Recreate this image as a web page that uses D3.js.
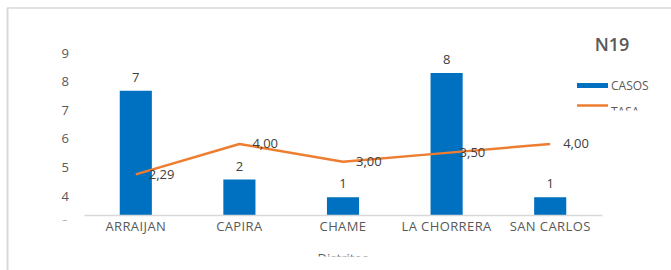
<!DOCTYPE html>
<html>
<head>
<meta charset="utf-8">
<script src="https://cdn.jsdelivr.net/npm/d3@7"></script>
<style>
  body { margin: 0; background: #fff; }
  svg { display: block; font-family: "Open Sans", sans-serif; }
</style>
</head>
<body>
<svg id="chart" width="671" height="270"></svg>
<script>
const DISTRITOS = ['ARRAIJAN', 'CAPIRA', 'CHAME', 'LA CHORRERA', 'SAN CARLOS'];
const CASOS = [7, 2, 1, 8, 1];
const TASA = [2.29, 4.00, 3.00, 3.50, 4.00];
const AXIS_TICKS = [3, 4, 5, 6, 7, 8, 9];

const svg = d3.select('#chart');
const W = 671, H = 270;

// frame (only top and left edges visible in the crop)
svg.append('line').attr('x1', 7).attr('x2', W).attr('y1', 8).attr('y2', 8)
  .attr('stroke', '#d9d9d9').attr('stroke-width', 1.5);
svg.append('line').attr('x1', 7.5).attr('x2', 7.5).attr('y1', 8).attr('y2', H)
  .attr('stroke', '#d9d9d9').attr('stroke-width', 2);

// scales
const x = d3.scaleBand().domain(DISTRITOS).range([84, 602]).paddingInner(0.69).paddingOuter(0.345);
const y = d3.scaleLinear().domain([0, 8]).range([215, 73]);       // bars and line
const yAxis = d3.scaleLinear().domain([3, 9]).range([224.5, 53]); // visible tick labels

// clips for things cut off at the bottom of the plot
const defs = svg.append('defs');
defs.append('clipPath').attr('id', 'clipTicks')
  .append('rect').attr('x', -70).attr('y', 0).attr('width', 80).attr('height', 220.5);
defs.append('clipPath').attr('id', 'clipLegend')
  .append('rect').attr('x', 560).attr('y', 0).attr('width', 111).attr('height', 110.5);
defs.append('clipPath').attr('id', 'clipTitle')
  .append('rect').attr('x', 200).attr('y', 0).attr('width', 300).attr('height', 256.5);

// y tick labels
const ya = svg.append('g').attr('clip-path', 'url(#clipTicks)')
  .attr('transform', 'translate(69,0)')
  .call(d3.axisLeft(yAxis).tickValues(AXIS_TICKS).tickSize(0).tickPadding(0).tickFormat(d3.format('d')));
ya.select('.domain').remove();
ya.selectAll('text').attr('fill', '#595959').attr('font-size', 13)
  .attr('font-family', '"Open Sans", sans-serif');

// bars
svg.append('g').selectAll('rect')
  .data(CASOS)
  .enter().append('rect')
    .attr('x', (d, i) => x(DISTRITOS[i]))
    .attr('y', d => y(d))
    .attr('width', x.bandwidth())
    .attr('height', d => y(0) - y(d))
    .attr('fill', '#0070c0');

// x axis
const xa = svg.append('g').attr('transform', 'translate(0,' + y(0) + ')')
  .call(d3.axisBottom(x).tickSize(0).tickPadding(7));
xa.select('.domain').attr('stroke', '#d9d9d9').attr('stroke-width', 1.5);
xa.selectAll('text').attr('fill', '#595959').attr('font-size', 13)
  .attr('letter-spacing', 0.4)
  .attr('font-family', '"Open Sans", sans-serif');

// bar labels
svg.append('g').selectAll('text')
  .data(CASOS)
  .enter().append('text')
    .text(d => d)
    .attr('x', (d, i) => x(DISTRITOS[i]) + x.bandwidth() / 2)
    .attr('y', d => y(d) - 9)
    .attr('text-anchor', 'middle')
    .attr('font-size', 13)
    .attr('fill', '#404040');

// tasa line
const line = d3.line()
  .x((d, i) => x(DISTRITOS[i]) + x.bandwidth() / 2)
  .y(d => y(d));
svg.append('path').datum(TASA)
  .attr('d', line)
  .attr('fill', 'none')
  .attr('stroke', '#ed7d31')
  .attr('stroke-width', 2.5)
  .attr('stroke-linejoin', 'round');

svg.append('g').selectAll('text')
  .data(TASA)
  .enter().append('text')
    .text(d => d.toFixed(2).replace('.', ','))
    .attr('x', (d, i) => x(DISTRITOS[i]) + x.bandwidth() / 2 + 13)
    .attr('y', d => y(d))
    .attr('dy', '0.32em')
    .attr('font-size', 13)
    .attr('fill', '#404040');

// axis title, cut off at the bottom
svg.append('text').attr('clip-path', 'url(#clipTitle)')
  .text('Distritos')
  .attr('x', 343).attr('y', 263)
  .attr('text-anchor', 'middle')
  .attr('font-size', 13)
  .attr('fill', '#595959');

// chart title
svg.append('text')
  .text('N19')
  .attr('x', 612).attr('y', 51)
  .attr('text-anchor', 'middle')
  .attr('font-size', 18)
  .attr('font-weight', 600)
  .attr('fill', '#595959');

// legend
const leg = svg.append('g');
leg.append('rect').attr('x', 577).attr('y', 83).attr('width', 31).attr('height', 5).attr('fill', '#0070c0');
leg.append('text').text('CASOS').attr('x', 611).attr('y', 85.5).attr('dy', '0.35em')
  .attr('font-size', 12).attr('fill', '#595959');
leg.append('line').attr('x1', 577).attr('x2', 608).attr('y1', 105.5).attr('y2', 105.5)
  .attr('stroke', '#ed7d31').attr('stroke-width', 2.5);
leg.append('text').attr('clip-path', 'url(#clipLegend)')
  .text('TASA').attr('x', 611).attr('y', 112).attr('dy', '0.35em')
  .attr('font-size', 12).attr('fill', '#595959');
</script>
</body>
</html>
